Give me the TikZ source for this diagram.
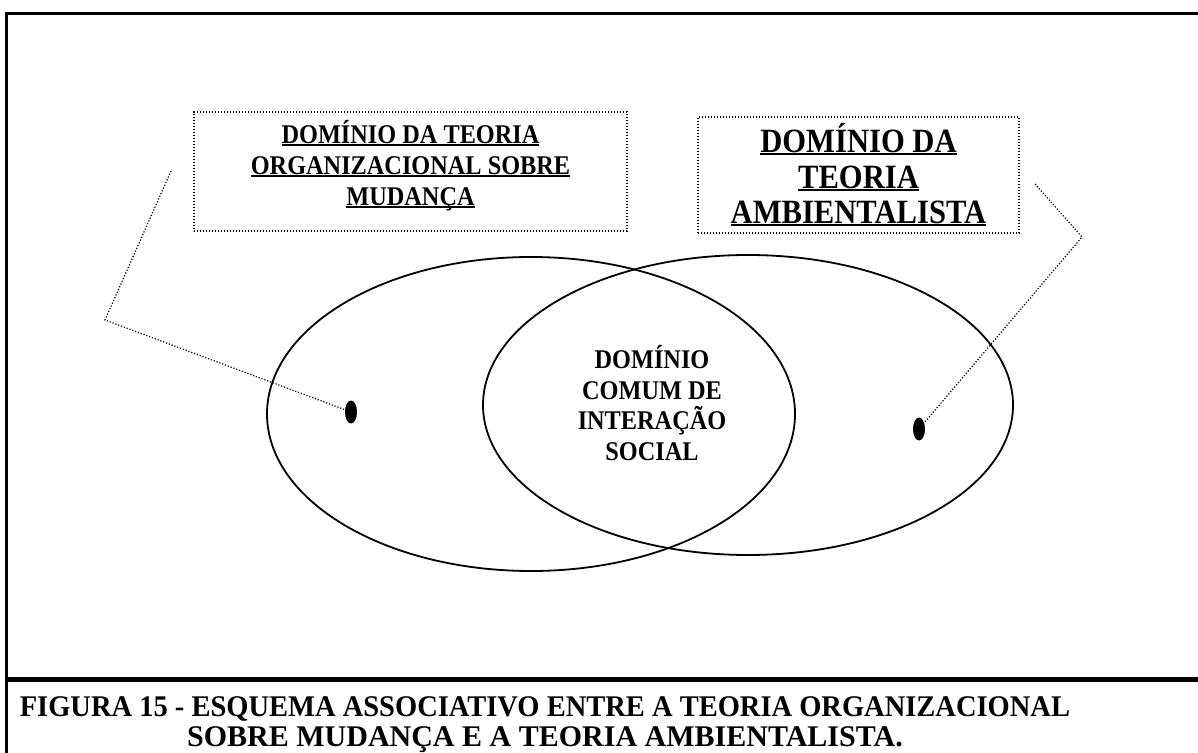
\documentclass[tikz,border=0pt]{standalone}
\usepackage{fontspec}
\setmainfont{Liberation Serif}
\newfontfamily\narrowfont[FakeStretch=0.9]{Liberation Serif}
\newfontfamily\capfont[FakeStretch=0.95]{Liberation Serif}
\usetikzlibrary{shapes.geometric}

\newcommand\undl[1]{\setbox0\hbox{#1}\rlap{\rule[-1.2pt]{\wd0}{1pt}}\box0}

\begin{document}
\begin{tikzpicture}[x=0.5pt, y=-0.5pt,
    frame/.style={line width=1.5pt},
    dotbox/.style={draw, dash pattern=on 0.6pt off 0.9pt, line width=0.6pt, inner sep=0pt},
    leader/.style={dash pattern=on 0.6pt off 0.9pt, line width=0.6pt},
    spot/.style={ellipse, fill=black, minimum width=6pt, minimum height=11.5pt, inner sep=0pt},
    smalltext/.style={align=center, font=\narrowfont\bfseries\fontsize{13.5pt}{15.5pt}\selectfont},
    bigtext/.style={align=center, font=\narrowfont\bfseries\fontsize{17pt}{17.75pt}\selectfont},
    captext/.style={anchor=south, align=center, inner sep=0pt, font=\bfseries\fontsize{15pt}{15pt}\selectfont}]

    \useasboundingbox (0,0) rectangle (1198,753);

    \draw [frame] (6,753) -- (6,14) -- (1198,14);
    \draw [line width=2.5pt] (6,679) -- (1198,679);

    \node [dotbox, minimum width=216.5pt, minimum height=59.5pt] (boxL) at (410.5,171.5) {};
    \node [smalltext] (titleL) at (410.5,166)
        {\undl{DOMÍNIO DA TEORIA}\\\undl{ORGANIZACIONAL SOBRE}\\\undl{MUDANÇA}};
    \node [dotbox, minimum width=160.5pt, minimum height=58pt] (boxR) at (858.5,175) {};
    \node [bigtext] (titleR) at (858.5,175)
        {\undl{DOMÍNIO DA}\\\undl{TEORIA}\\\undl{AMBIENTALISTA}};

    \draw [line width=0.9pt] (531,414) ellipse [x radius=132pt, y radius=78.5pt];
    \draw [line width=0.9pt] (748,405) ellipse [x radius=132.5pt, y radius=75pt];
    \node [smalltext, font=\narrowfont\bfseries\fontsize{13.5pt}{15.35pt}\selectfont] (comum) at (652,403)
        {DOMÍNIO\\COMUM DE\\INTERAÇÃO\\SOCIAL};

    \node [spot] (spotL) at (351,412) {};
    \node [spot] (spotR) at (919,429) {};

    \coordinate (lfree) at (171,171);
    \coordinate (lbend) at (105,320);
    \draw [leader] (lfree) -- (lbend) -- (spotL);
    \coordinate (rfree) at (1035,184);
    \coordinate (rbend) at (1082,237);
    \draw [leader] (rfree) -- (rbend) -- (spotR);

    \node [captext] (caption) at (545,753)
        {{\capfont FIGURA 15 - ESQUEMA ASSOCIATIVO ENTRE A TEORIA ORGANIZACIONAL}\\
         SOBRE MUDANÇA E A TEORIA AMBIENTALISTA.};

\end{tikzpicture}
\end{document}
